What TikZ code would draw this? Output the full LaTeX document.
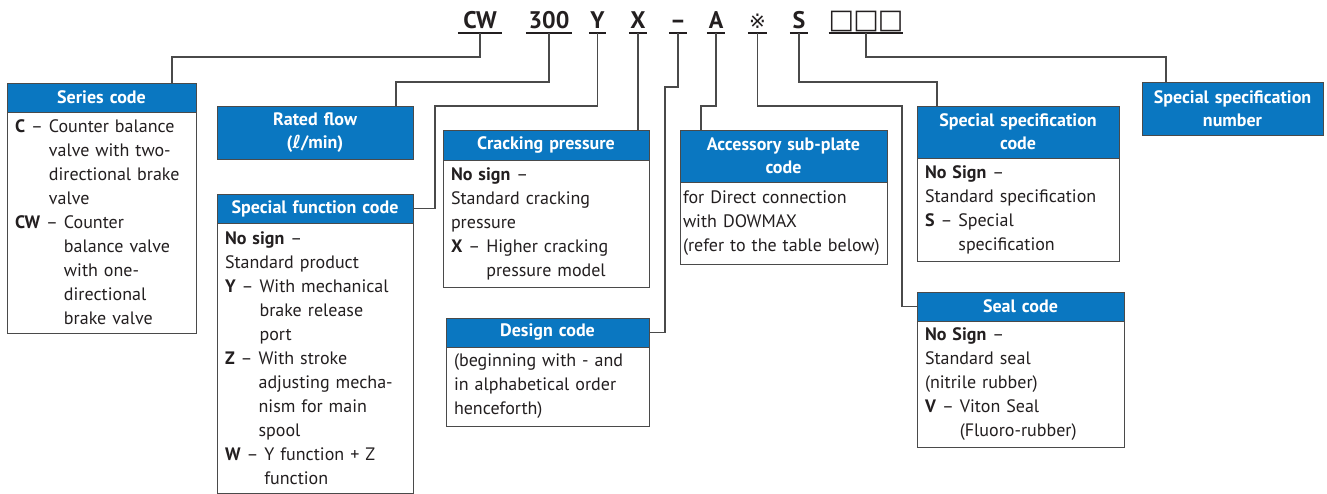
\documentclass[tikz,border=0pt]{standalone}
\usepackage{fontspec}
\setmainfont{PT Sans}
\newfontfamily\pcsym{DejaVu Sans}
\usetikzlibrary{positioning}
\definecolor{pcBlue}{HTML}{0A77C1}
\definecolor{pcInk}{HTML}{231F20}
\definecolor{pcLine}{HTML}{4A4A4A}
\newcommand\keyed[1]{\textbf{#1}\ --\ }
\newcommand\under[1]{\hphantom{\keyed{#1}}}
\newcommand\refmark{{\pcsym\mdseries\fontsize{20}{20}\selectfont ※}}
\newcommand\numboxes{{\pcsym\mdseries\fontsize{27}{27}\selectfont □\kern-1pt□\kern-1pt□}}
\tikzset{
  pc diagram/.style={x=1pt, y=-1pt, text=pcInk},
  pc code/.style={anchor=south, inner xsep=0pt, inner ysep=4pt,
    text height=17pt, text depth=0pt,
    font=\fontsize{24}{26}\selectfont\bfseries},
  pc rule/.style={draw=pcInk, line width=2.4pt},
  pc head/.style={draw=pcLine, fill=pcBlue, text=white, line width=0.9pt,
    anchor=north west, align=center, inner sep=0pt, outer sep=0pt,
    font=\fontsize{18}{23}\selectfont\bfseries},
  pc body/.style={draw=pcLine, fill=white, line width=0.9pt,
    align=left, inner xsep=8pt, inner ysep=0pt, outer sep=0pt,
    font=\fontsize{18}{24}\selectfont},
  pc link/.style={draw=pcLine, line width=1.3pt}
}
\begin{document}
\begin{tikzpicture}[pc diagram]
\useasboundingbox (0,0) rectangle (1327,494);
% model code
\foreach \id/\x/\w/\txt in {cw/480/44/CW, c300/549/46/300, cy/597.5/17/Y,
    cx/638/18/X, cdash/678/18/--, ca/716/18/A, cref/757.5/19/\refmark,
    cs/799/18/S, cnum/866/72/\numboxes}{
  \node[pc code, minimum width=\w] (\id) at (\x,33) {\txt};
  \draw[pc rule] (\id.south west) -- (\id.south east);
}
% boxes
\node[pc head, text width=189pt, minimum height=29pt] (sc-head) at (7,83) {Series code};
\node[pc body, text width=173pt, minimum height=221pt, below=0pt of sc-head] (sc-body) {%
  \keyed{C}Counter balance\\ \under{C}valve with two-\\ \under{C}directional brake\\
  \under{C}valve\\ \keyed{CW}Counter\\ \under{CW}balance valve\\ \under{CW}with one-\\
  \under{CW}directional\\ \under{CW}brake valve};
\node[pc head, text width=196pt, minimum height=53pt] (rf-head) at (217,106) {Rated flow\\({\pcsym ℓ}/min)};
\node[pc head, text width=196pt, minimum height=29pt] (sf-head) at (217,194) {Special function code};
\node[pc body, text width=180pt, minimum height=270pt, below=0pt of sf-head] (sf-body) {%
  \textbf{No sign} --\\ Standard product\\ \keyed{Y}With mechanical\\
  \under{Y}brake release\\ \under{Y}port\\ \keyed{Z}With stroke\\
  \under{Z}adjusting mecha-\\ \under{Z}nism for main\\ \under{Z}spool\\
  \keyed{W}Y function + Z\\ \under{W}function};
\node[pc head, text width=206pt, minimum height=30pt] (cp-head) at (443,130) {Cracking pressure};
\node[pc body, text width=190pt, minimum height=127pt, below=0pt of cp-head] (cp-body) {%
  \textbf{No sign} --\\ Standard cracking\\ pressure\\
  \keyed{X}Higher cracking\\ \under{X}pressure model};
\node[pc head, text width=203pt, minimum height=29pt] (dc-head) at (446,318) {Design code};
\node[pc body, text width=187pt, minimum height=79pt, below=0pt of dc-head] (dc-body) {%
  (beginning with - and\\ in alphabetical order\\ henceforth)};
\node[pc head, text width=207pt, minimum height=52pt] (ac-head) at (680,130) {Accessory sub-plate\\code};
\node[pc body, text width=201pt, inner xsep=3pt, minimum height=82pt, below=0pt of ac-head] (ac-body) {%
  for Direct connection\\ with DOWMAX\\ (refer to the table below)};
\node[pc head, text width=202pt, minimum height=52pt] (ss-head) at (917,106) {Special specification\\code};
\node[pc body, text width=186pt, minimum height=103pt, below=0pt of ss-head] (ss-body) {%
  \textbf{No Sign} --\\ Standard specification\\ \keyed{S}Special\\ \under{S}specification};
\node[pc head, text width=207pt, minimum height=29pt] (sl-head) at (917,292) {Seal code};
\node[pc body, text width=191pt, minimum height=126pt, below=0pt of sl-head] (sl-body) {%
  \textbf{No Sign} --\\ Standard seal\\ (nitrile rubber)\\
  \keyed{V}Viton Seal\\ \under{V}(Fluoro-rubber)};
\node[pc head, text width=181pt, minimum height=53pt] (sn-head) at (1142,82) {Special specification\\number};
% leader lines
\draw[pc link] (cw.south) -- ++(0,24) -| ([xshift=165pt]sc-head.north west);
\draw[pc link] (c300.south) -- ++(0,49) -| ([xshift=179pt]rf-head.north west);
\draw[pc link] (cy.south) -- ++(0,73) -| ([xshift=22pt]sf-head.east) -- (sf-head.east);
\draw[pc link] (cx.south) -- (cx.south |- cp-head.north);
\draw[pc link] (cdash.south) -- ++(0,54) -| ([xshift=16pt]dc-head.east) -- (dc-head.east);
\draw[pc link] (ca.south) -- ++(0,73) -| ([xshift=21pt]ac-head.north west);
\draw[pc link] (cref.south) -- ++(0,73) -| ([xshift=-15pt]sl-head.west) -- (sl-head.west);
\draw[pc link] (cs.south) -- ++(0,49) -| ([xshift=20pt]ss-head.north west);
\draw[pc link] (cnum.south) -- ++(0,24) -| ([xshift=24pt]sn-head.north west);
\end{tikzpicture}
\end{document}
